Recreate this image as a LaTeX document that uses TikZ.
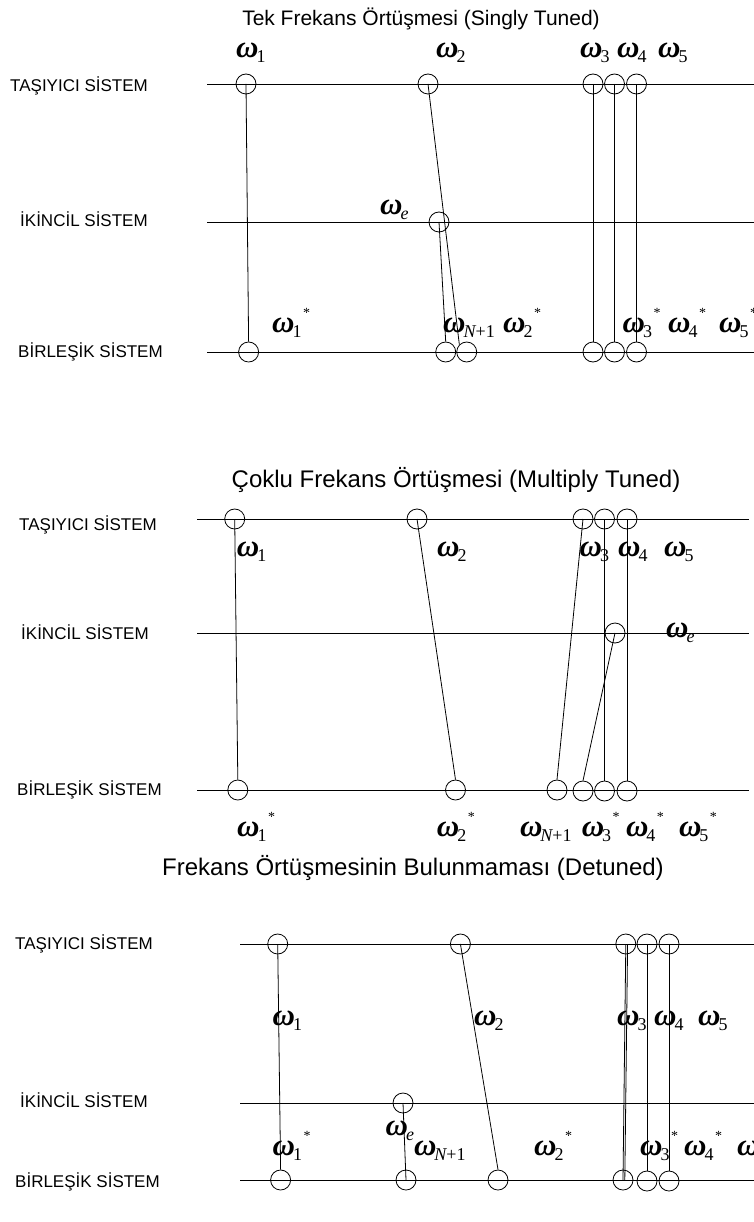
\documentclass[tikz,border=0pt]{standalone}
\usepackage{fontspec}
\setmainfont{Liberation Sans}
\newfontfamily\tms{Liberation Serif}
\newcommand{\om}[1]{{\fontsize{31}{31}\selectfont\tms\bfseries\itshape ω}\kern-2pt\raisebox{-5pt}{\fontsize{18}{18}\selectfont\tms #1}}
\newcommand{\oms}[1]{\om{#1}\kern1.5pt\raisebox{15pt}{\fontsize{14}{14}\selectfont\tms *}}
\tikzset{
 circ/.style={circle,draw,minimum size=20pt,inner sep=0pt,line width=0.8pt},
 sysline/.style={line width=0.8pt},
 conn/.style={line width=0.8pt},
 lbl/.style={anchor=west,inner sep=0pt,font=\fontsize{17}{20}\selectfont},
 ttl/.style={inner sep=0pt,font=\fontsize{21}{24}\selectfont},
 ttlb/.style={inner sep=0pt,font=\fontsize{24}{28}\selectfont},
 omg/.style={anchor=base west,inner sep=0pt},
}
\begin{document}
\begin{tikzpicture}[x=1pt,y=-1pt]
\useasboundingbox (0,0) rectangle (754,1222);
% ---------------- Section 1 ----------------
\node[ttl] (T1) at (421,19) {Tek Frekans Örtüşmesi (Singly Tuned)};
\node[lbl] (A1) at (10,86) {TAŞIYICI SİSTEM};
\node[lbl] (B1) at (20,219) {İKİNCİL SİSTEM};
\node[lbl] (C1) at (18,352) {BİRLEŞİK SİSTEM};
\coordinate (L1a) at (207,84);  \coordinate (L1b) at (754,84);
\coordinate (M1a) at (207,222); \coordinate (M1b) at (754,222);
\coordinate (N1a) at (207,352); \coordinate (N1b) at (754,352);
\draw[sysline] (L1a) -- (L1b);
\draw[sysline] (M1a) -- (M1b);
\draw[sysline] (N1a) -- (N1b);
\node[circ] (a11) at (246,84) {};
\node[circ] (a12) at (428,84) {};
\node[circ] (a13) at (593,84) {};
\node[circ] (a14) at (614.5,84) {};
\node[circ] (a15) at (636.5,84) {};
\node[circ] (e1) at (439,222) {};
\node[circ] (b11) at (248.6,352) {};
\node[circ] (b1n) at (445.7,352) {};
\node[circ] (b12) at (466.7,352) {};
\node[circ] (b13) at (593,352) {};
\node[circ] (b14) at (614.5,352) {};
\node[circ] (b15) at (636.5,352) {};
\draw[conn] (a11.center) -- (b11.north);
\draw[conn] (a12.center) -- (b12.north west);
\draw[conn] (e1.center) -- (b1n.north);
\draw[conn] (a13.center) -- (b13.north);
\draw[conn] (a14.center) -- (b14.north);
\draw[conn] (a15.center) -- (b15.north);
\node[omg] (w11) at (236,58) {\om{1}};
\node[omg] (w12) at (436,58) {\om{2}};
\node[omg] (w13) at (580,58) {\om{3}};
\node[omg] (w14) at (617,58) {\om{4}};
\node[omg] (w15) at (658,58) {\om{5}};
\node[omg] (we1) at (380,215) {\om{\itshape e}};
\node[omg] (s11) at (272,332) {\oms{1}};
\node[omg] (s1n) at (443,332) {\om{{\itshape N}+1}};
\node[omg] (s12) at (503,332) {\oms{2}};
\node[omg] (s13) at (622.5,332) {\oms{3}};
\node[omg] (s14) at (668,332) {\oms{4}};
\node[omg] (s15) at (719,332) {\oms{5}};
% ---------------- Section 2 ----------------
\node[ttlb] (T2) at (456,480) {Çoklu Frekans Örtüşmesi (Multiply Tuned)};
\node[lbl] (A2) at (19,525) {TAŞIYICI SİSTEM};
\node[lbl] (B2) at (21,632) {İKİNCİL SİSTEM};
\node[lbl] (C2) at (17,790) {BİRLEŞİK SİSTEM};
\coordinate (L2a) at (197,519); \coordinate (L2b) at (749,519);
\coordinate (M2a) at (197,633); \coordinate (M2b) at (749,633);
\coordinate (N2a) at (197,790); \coordinate (N2b) at (749,790);
\draw[sysline] (L2a) -- (L2b);
\draw[sysline] (M2a) -- (M2b);
\draw[sysline] (N2a) -- (N2b);
\node[circ] (a21) at (234.7,519) {};
\node[circ] (a22) at (417,519) {};
\node[circ] (a23) at (583,519) {};
\node[circ] (a24) at (604.5,519) {};
\node[circ] (a25) at (627,519) {};
\node[circ] (e2) at (615,633) {};
\node[circ] (b21) at (237.8,790) {};
\node[circ] (b22) at (455.5,790) {};
\node[circ] (b2n) at (557,790) {};
\node[circ] (b23) at (583,791) {};
\node[circ] (b24) at (604.5,791) {};
\node[circ] (b25) at (627,791) {};
\draw[conn] (a21.center) -- (b21.north);
\draw[conn] (a22.center) -- (b22.north);
\draw[conn] (a23.center) -- (b2n.north);
\draw[conn] (e2.center) -- (b23.north);
\draw[conn] (a24.center) -- (b24.north);
\draw[conn] (a25.center) -- (b25.north);
\node[omg] (w21) at (236.7,556) {\om{1}};
\node[omg] (w22) at (437,556) {\om{2}};
\node[omg] (w23) at (579.5,556) {\om{3}};
\node[omg] (w24) at (618,556) {\om{4}};
\node[omg] (w25) at (664,556) {\om{5}};
\node[omg] (we2) at (666,637) {\om{\itshape e}};
\node[omg] (s21) at (237,836) {\oms{1}};
\node[omg] (s22) at (436.7,836) {\oms{2}};
\node[omg] (s2n) at (519.8,836) {\om{{\itshape N}+1}};
\node[omg] (s23) at (581.6,836) {\oms{3}};
\node[omg] (s24) at (625.8,836) {\oms{4}};
\node[omg] (s25) at (678.8,836) {\oms{5}};
% ---------------- Section 3 ----------------
\node[ttlb] (T3) at (413,868) {Frekans Örtüşmesinin Bulunmaması (Detuned)};
\node[lbl] (A3) at (15,944) {TAŞIYICI SİSTEM};
\node[lbl] (B3) at (20,1100) {İKİNCİL SİSTEM};
\node[lbl] (C3) at (15,1182) {BİRLEŞİK SİSTEM};
\coordinate (L3a) at (240,944);  \coordinate (L3b) at (754,944);
\coordinate (M3a) at (240,1103); \coordinate (M3b) at (754,1103);
\coordinate (N3a) at (240,1180); \coordinate (N3b) at (754,1180);
\draw[sysline] (L3a) -- (L3b);
\draw[sysline] (M3a) -- (M3b);
\draw[sysline] (N3a) -- (N3b);
\node[circ] (a31) at (277.7,944) {};
\node[circ] (a32) at (460.4,944) {};
\node[circ] (a33) at (625.8,944) {};
\node[circ] (a34) at (647,944) {};
\node[circ] (a35) at (669,944) {};
\node[circ] (e3) at (403,1103) {};
\node[circ] (b31) at (280.6,1180) {};
\node[circ] (b3n) at (406,1180) {};
\node[circ] (b32) at (498,1180) {};
\node[circ] (b33) at (623,1180) {};
\node[circ] (b34) at (647,1181) {};
\node[circ] (b35) at (669,1181) {};
\draw[conn] (a31.center) -- (b31.north);
\draw[conn] (a32.center) -- (b32.north);
\draw[conn] (e3.center) -- (b3n.center);
\draw[conn] (a33.center) -- (b33.center);
\draw[conn] ([xshift=1.8pt]a33.center) -- ([xshift=1.8pt]b33.center);
\draw[conn] (a34.center) -- (b34.north);
\draw[conn] (a35.center) -- (b35.north);
\node[omg] (w31) at (272.4,1025) {\om{1}};
\node[omg] (w32) at (474,1025) {\om{2}};
\node[omg] (w33) at (617,1025) {\om{3}};
\node[omg] (w34) at (654,1025) {\om{4}};
\node[omg] (w35) at (698,1025) {\om{5}};
\node[omg] (we3) at (385.5,1135) {\om{\itshape e}};
\node[omg] (s31) at (272.4,1155) {\oms{1}};
\node[omg] (s3n) at (413.8,1155) {\om{{\itshape N}+1}};
\node[omg] (s32) at (534,1155) {\oms{2}};
\node[omg] (s33) at (640,1155) {\oms{3}};
\node[omg] (s34) at (684,1155) {\oms{4}};
\node[omg] (s35) at (737,1155) {\oms{5}};
\end{tikzpicture}
\end{document}
